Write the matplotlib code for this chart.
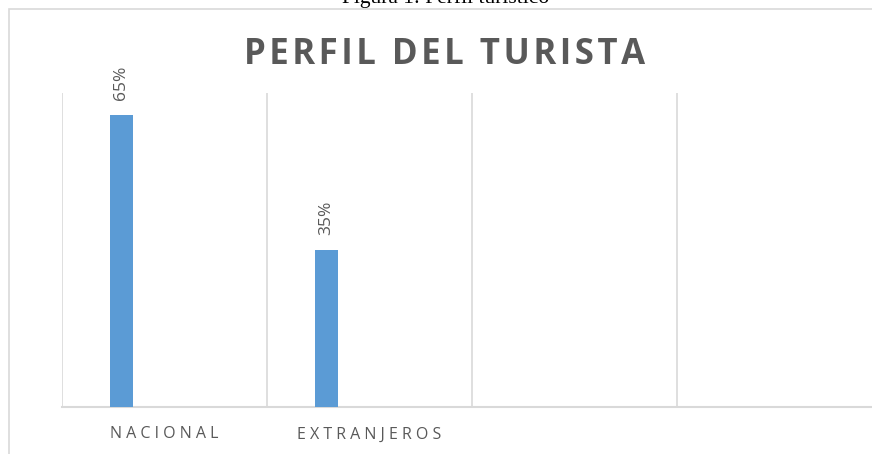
import numpy as np
import matplotlib.pyplot as plt
from matplotlib.patches import Rectangle

# -----------------------------
# Data
# -----------------------------
categories = ["NACIONAL", "EXTRANJEROS", "", ""]
values = [65, 35]
value_labels = ["65%", "35%"]

bar_color = "#5B9BD5"
grid_color = "#D9D9D9"
text_color = "#595959"

plt.rcParams['font.family'] = ['Open Sans', 'DejaVu Sans']

fig = plt.figure(figsize=(8.72, 4.54), dpi=100)

# outer chart frame (cut off at right and bottom, like the screenshot)
frame = Rectangle((9 / 872, -0.2), 1.1, 1.2 - 9 / 454,
                  transform=fig.transFigure, fill=False,
                  edgecolor=grid_color, linewidth=1.2)
fig.patches.append(frame)

# caption above the chart (mostly cut off at the top edge)
fig.text(446 / 872, 1 - 3 / 454, "Figura 1: Perfil turístico",
         family="Liberation Serif", fontsize=15.5, color="black",
         ha="center", va="baseline")

# chart title, letters spaced out with hair spaces
title = "PERFIL DEL TURISTA"
fig.text(445 / 872, 1 - 55 / 454, "\u200a".join(title),
         fontsize=25, fontweight="bold", color=text_color,
         ha="center", va="center")

ax = fig.add_axes([62 / 872, 1 - 407 / 454, 820 / 872, 314 / 454])

x = np.arange(len(values))
bars = ax.bar(x - 0.21, values, width=0.112, color=bar_color, zorder=3)

for rect, lab in zip(bars, value_labels):
    ax.annotate(lab, (rect.get_x() + rect.get_width() / 2, rect.get_height()),
                xytext=(0, 11), textcoords="offset points",
                rotation=90, ha="center", va="bottom",
                fontsize=12.5, color=text_color)

ax.set_xlim(-0.5, 3.5)
ax.set_ylim(0, 70)

# spaced-out category labels
ax.set_xticks(np.arange(len(categories)))
ax.set_xticklabels([" ".join(c) for c in categories], fontsize=11.5,
                   color=text_color)
ax.tick_params(axis="x", length=0, pad=14)
ax.set_yticks([])

ax.set_xticks(np.arange(-0.5, 4, 1), minor=True)
ax.tick_params(axis="x", which="minor", length=0)
ax.grid(True, which="minor", axis="x", color=grid_color, linewidth=1.2)

for side in ["left", "right", "top"]:
    ax.spines[side].set_visible(False)
ax.spines["bottom"].set_color(grid_color)
ax.spines["bottom"].set_linewidth(1.5)

fig.savefig("out.png", dpi=100)
